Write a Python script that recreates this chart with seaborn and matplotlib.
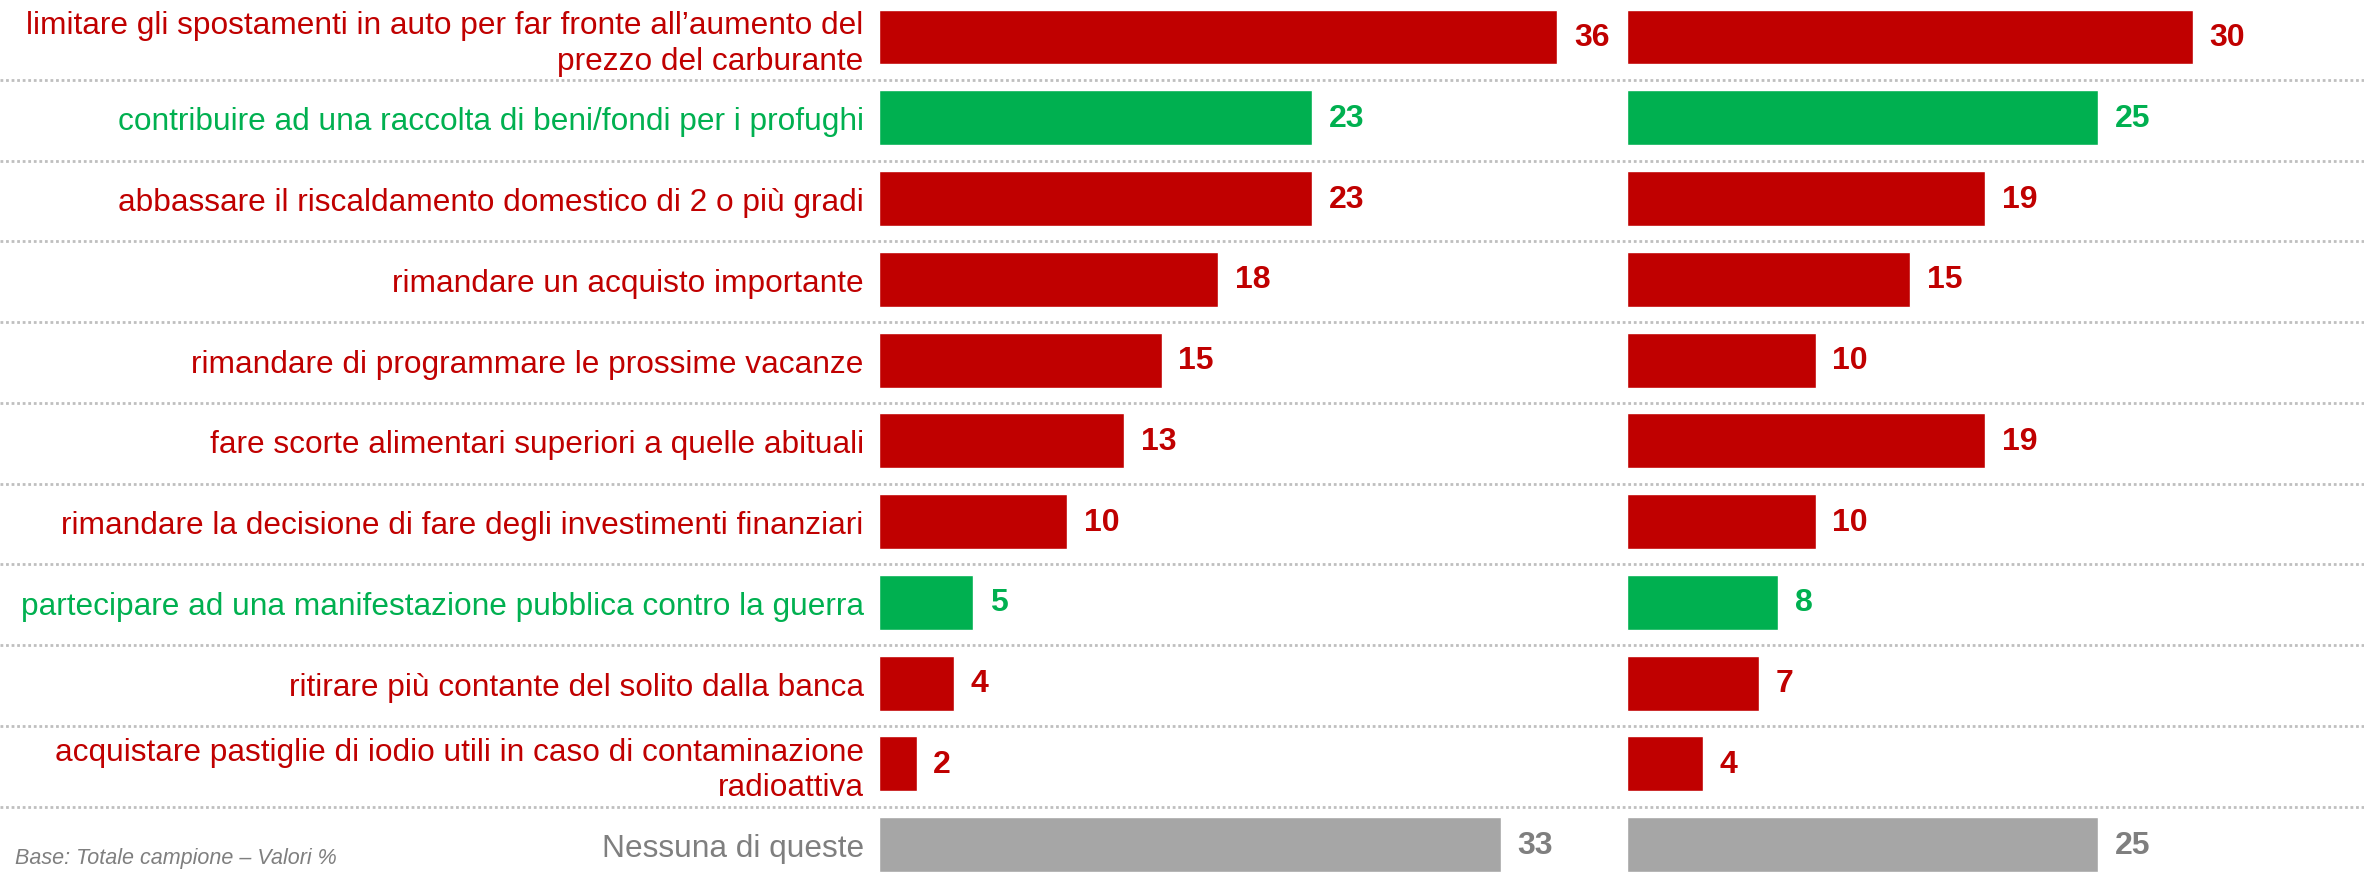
import pandas as pd
import matplotlib.pyplot as plt
import matplotlib.transforms as mtransforms
import seaborn as sns

# dati
categories = [
    "limitare gli spostamenti in auto per far fronte all\u2019aumento del\nprezzo del carburante",
    "contribuire ad una raccolta di beni/fondi per i profughi",
    "abbassare il riscaldamento domestico di 2 o più gradi",
    "rimandare un acquisto importante",
    "rimandare di programmare le prossime vacanze",
    "fare scorte alimentari superiori a quelle abituali",
    "rimandare la decisione di fare degli investimenti finanziari",
    "partecipare ad una manifestazione pubblica contro la guerra",
    "ritirare più contante del solito dalla banca",
    "acquistare pastiglie di iodio utili in caso di contaminazione\nradioattiva",
    "Nessuna di queste",
]
wave_1 = [36, 23, 23, 18, 15, 13, 10, 5, 4, 2, 33]
wave_2 = [30, 25, 19, 15, 10, 19, 10, 8, 7, 4, 25]
kind = ["neg", "pos", "neg", "neg", "neg", "neg", "neg", "pos", "neg", "neg", "none"]
footnote = "Base: Totale campione \u2013 Valori %"

bar_colors = {"neg": "#C00000", "pos": "#00B050", "none": "#A6A6A6"}
text_colors = {"neg": "#C00000", "pos": "#00B050", "none": "#7F7F7F"}

df = pd.DataFrame({"cat": categories, "w1": wave_1, "w2": wave_2, "kind": kind})
palette = {c: bar_colors[k] for c, k in zip(categories, kind)}

sns.set_theme(style="white")
plt.rcParams["font.family"] = ["Liberation Sans", "DejaVu Sans"]

fig = plt.figure(figsize=(23.64, 8.78), dpi=100)
ax1 = fig.add_axes([0.3718, 0.0, 0.295, 1.0])
ax2 = fig.add_axes([0.6883, 0.0, 0.295, 1.0])

for ax, col in [(ax1, "w1"), (ax2, "w2")]:
    sns.barplot(data=df, x=col, y="cat", hue="cat", palette=palette,
                dodge=False, legend=False, width=0.68, saturation=1, ax=ax)
    ax.set_xlim(0, 37)
    ax.set_ylim(10.4, -0.47)
    for s in ax.spines.values():
        s.set_visible(False)
    ax.set_xticks([])
    ax.set_xlabel("")
    ax.set_ylabel("")
    ax.patch.set_alpha(0)
    # etichette valori
    for cont, k in zip(ax.containers, kind):
        ax.bar_label(cont, padding=12, fontsize=23, fontweight="bold",
                     color=text_colors[k])

ax1.tick_params(axis="y", length=0, pad=11, labelsize=22.8)
for lab, k in zip(ax1.get_yticklabels(), kind):
    lab.set_color(text_colors[k])
    lab.set_linespacing(1.22)
ax2.set_yticks([])

# linee tratteggiate tra le righe
trans = mtransforms.blended_transform_factory(fig.transFigure, ax1.transData)
for i in range(len(categories) - 1):
    y = i + 0.53
    ax1.plot([0, 1], [y, y], transform=trans, clip_on=False,
             color="#BFBFBF", linewidth=2, linestyle=(0, (1, 1)))

fig.text(0.0063, 0.022, footnote, fontsize=15.5, style="italic",
         color="#7F7F7F", ha="left", va="center")

plt.savefig("out.png", dpi=100)
